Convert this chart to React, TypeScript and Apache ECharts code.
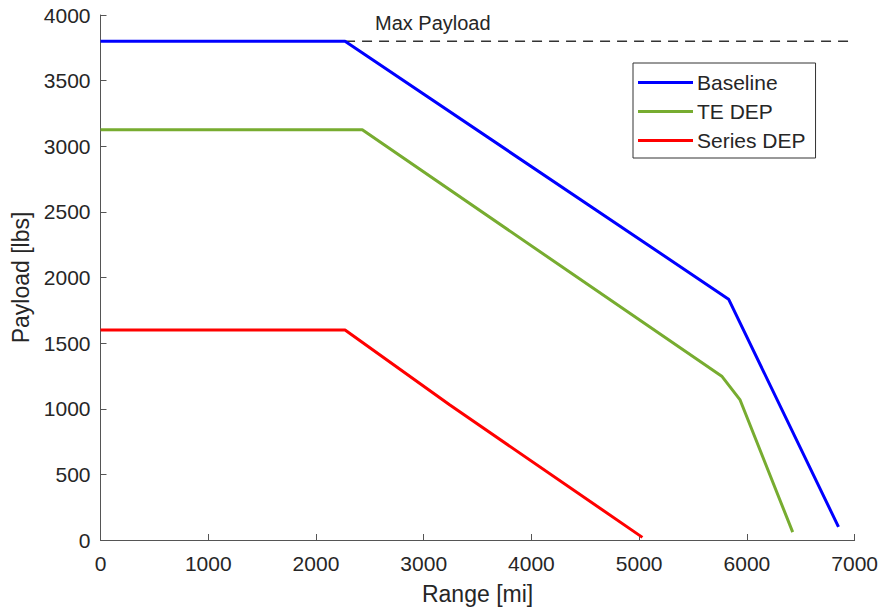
import React, { useEffect, useRef } from "react";
import * as echarts from "echarts";

// Payload-range curves for three propulsion configurations
const baselineRange = [0, 2270, 5830, 6850];
const baselinePayload = [3800, 3800, 1835, 100];

const teDepRange = [0, 2430, 5770, 5935, 6425];
const teDepPayload = [3125, 3125, 1245, 1070, 60];

const seriesDepRange = [0, 2270, 3240, 5030];
const seriesDepPayload = [1600, 1600, 1030, 20];

const maxPayloadRange = [2270, 7000];
const maxPayloadValue = [3800, 3800];

const seriesNames = ["Baseline", "TE DEP", "Series DEP"];
const seriesColors = ["#0000FF", "#77AC30", "#FF0000"];

const xTicks = { min: 0, max: 7000, interval: 1000 };
const yTicks = { min: 0, max: 4000, interval: 500 };

const zip = (xs: number[], ys: number[]) => xs.map((x, i) => [x, ys[i]]);

const FONT = "'Liberation Sans', Arial, Helvetica, sans-serif";
const TEXT = "#262626";
const AXIS = "#555555";

export default function App() {
  const ref = useRef<HTMLDivElement>(null);

  useEffect(() => {
    if (!ref.current) return;
    const chart = echarts.init(ref.current, null, { renderer: "svg" });

    const axisCommon = {
      axisLine: { show: true, onZero: false, lineStyle: { color: AXIS, width: 1 } },
      axisTick: { show: true, inside: true, length: 6, lineStyle: { color: AXIS } },
      splitLine: { show: false },
      axisLabel: {
        color: TEXT,
        fontSize: 21,
        fontFamily: FONT,
        formatter: (v: number) => String(v),
      },
      nameTextStyle: { color: TEXT, fontSize: 23, fontFamily: FONT },
      nameLocation: "middle" as const,
    };

    const curves = [
      zip(baselineRange, baselinePayload),
      zip(teDepRange, teDepPayload),
      zip(seriesDepRange, seriesDepPayload),
    ];

    chart.setOption({
      animation: false,
      backgroundColor: "#ffffff",
      textStyle: { fontFamily: FONT },
      grid: { left: 100.5, right: 24, top: 15, bottom: 71, containLabel: false },
      xAxis: {
        type: "value",
        ...axisCommon,
        min: xTicks.min,
        max: xTicks.max,
        interval: xTicks.interval,
        name: "Range [mi]",
        nameGap: 42,
        axisLabel: { ...axisCommon.axisLabel, margin: 13 },
      },
      yAxis: {
        type: "value",
        ...axisCommon,
        min: yTicks.min,
        max: yTicks.max,
        interval: yTicks.interval,
        name: "Payload [lbs]",
        nameGap: 56,
        axisLabel: { ...axisCommon.axisLabel, margin: 10 },
      },
      legend: {
        orient: "vertical",
        left: 633,
        top: 63,
        data: seriesNames,
        icon: "rect",
        itemWidth: 55,
        itemHeight: 3,
        itemGap: 8,
        padding: [9, 10, 7, 5],
        borderColor: "#333333",
        borderWidth: 1,
        backgroundColor: "#ffffff",
        textStyle: { color: TEXT, fontSize: 21, fontFamily: FONT, padding: [0, 0, 0, -1] },
      },
      series: [
        {
          name: "Max Payload",
          type: "line",
          data: zip(maxPayloadRange, maxPayloadValue),
          showSymbol: false,
          silent: true,
          z: 1,
          lineStyle: { color: "#333333", width: 1.3, type: [10, 7] },
        },
        ...seriesNames.map((name, i) => ({
          name,
          type: "line",
          data: curves[i],
          showSymbol: false,
          z: 2,
          color: seriesColors[i],
          lineStyle: { color: seriesColors[i], width: 3 },
        })),
      ],
      graphic: [
        {
          type: "text",
          left: 375,
          top: 13,
          style: { text: "Max Payload", fill: TEXT, fontSize: 20, fontFamily: FONT },
        },
      ],
    });

    return () => chart.dispose();
  }, []);

  return (
    <div
      ref={ref}
      style={{ position: "fixed", left: 0, top: 0, width: 881, height: 611, background: "#fff" }}
    />
  );
}
